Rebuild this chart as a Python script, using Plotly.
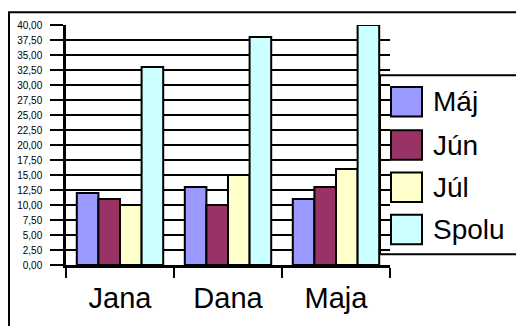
import plotly.graph_objects as go

categories = ["Jana", "Dana", "Maja"]
series_names = ["Máj", "Jún", "Júl", "Spolu"]
maj = [12, 13, 11]
jun = [11, 10, 13]
jul = [10, 15, 16]
spolu = [33, 38, 40]
series_values = [maj, jun, jul, spolu]
colors = ["#9999FF", "#993366", "#FFFFCC", "#CCFFFF"]
y_ticks = [i * 2.5 for i in range(17)]

W, H = 516, 326
L, R, T, B = 66, 390, 25, 269
FONT = "Liberation Sans, Arial, sans-serif"


def px(x):
    return (x - L) / (R - L)


def py(y):
    return (B - y) / (B - T)


fig = go.Figure()
for name, vals, col in zip(series_names, series_values, colors):
    fig.add_trace(go.Bar(
        x=categories, y=vals, name=name,
        marker=dict(color=col, line=dict(color="black", width=2)),
        showlegend=False,
    ))

shapes = []
annotations = []
# outer chart border
shapes.append(dict(type="rect", xref="paper", yref="paper",
                   x0=px(9), x1=px(530), y0=py(12), y1=py(340),
                   line=dict(color="black", width=2), layer="above"))
# legend box
shapes.append(dict(type="rect", xref="paper", yref="paper",
                   x0=px(380), x1=px(530), y0=py(76), y1=py(258),
                   line=dict(color="black", width=2), layer="above"))
sw_tops = [88, 132, 175, 218]
for name, col, top in zip(series_names, colors, sw_tops):
    shapes.append(dict(type="rect", xref="paper", yref="paper",
                       x0=px(391), x1=px(422), y0=py(top), y1=py(top + 30),
                       fillcolor=col, line=dict(color="black", width=2),
                       layer="above"))
    annotations.append(dict(xref="paper", yref="paper", x=px(431),
                            y=py(top + 15), text=name, showarrow=False,
                            xanchor="left", yanchor="middle",
                            font=dict(family=FONT, size=28, color="black")))

fig.update_layout(
    width=W, height=H,
    margin=dict(l=L, r=W - R, t=T, b=H - B, pad=0),
    paper_bgcolor="white", plot_bgcolor="white",
    barmode="group", bargap=0.2, bargroupgap=0,
    separators=",.",
    shapes=shapes, annotations=annotations,
    font=dict(family=FONT, color="black"),
)
fig.update_yaxes(
    range=[0, 40], tickvals=y_ticks, tickformat=".2f",
    showgrid=True, gridcolor="black", gridwidth=2,
    showline=True, linecolor="black", linewidth=2.5,
    ticks="outside", ticklen=13, tickwidth=2, tickcolor="black",
    tickfont=dict(family=FONT, size=10, color="black"),
    ticklabelstandoff=6, zeroline=False,
)
fig.update_xaxes(
    type="category", tickson="boundaries",
    showline=True, linecolor="black", linewidth=2.5,
    ticks="outside", ticklen=10, tickwidth=2, tickcolor="black",
    tickfont=dict(family=FONT, size=29, color="black"),
    ticklabelstandoff=5, showgrid=False,
)

fig.write_html("out.html")
